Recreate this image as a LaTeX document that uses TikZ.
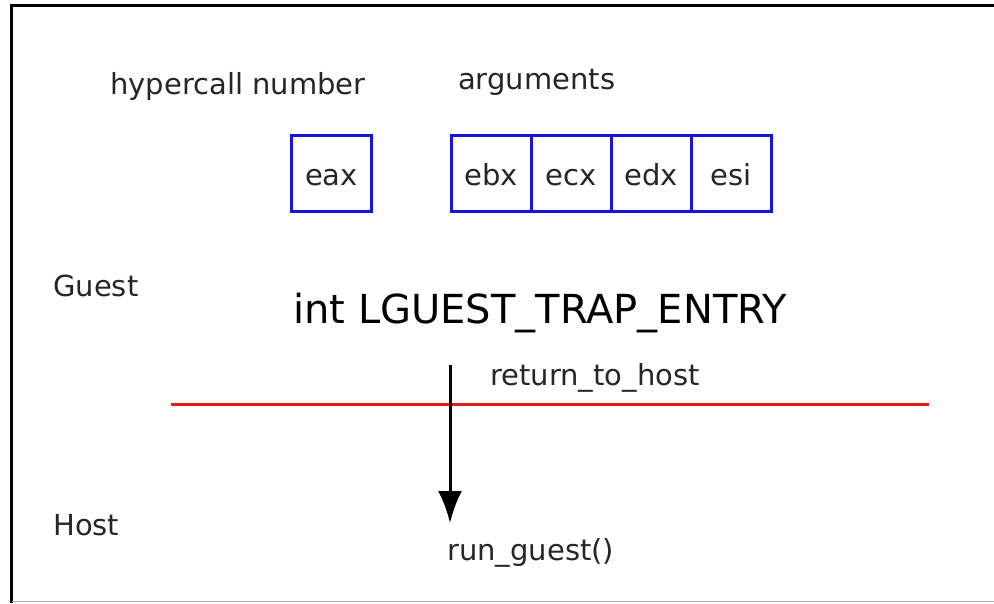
\documentclass[tikz,border=0pt]{standalone}
\usepackage{fontspec}
\setmainfont{DejaVu Sans}
\usetikzlibrary{arrows.meta}
\definecolor{regblue}{RGB}{20,20,220}
\definecolor{sepred}{RGB}{225,30,30}
\begin{document}
\begin{tikzpicture}[x=1pt,y=-1pt,
  lbl/.style={inner sep=0pt, font=\fontsize{29}{32}\selectfont, text=black!85},
  reg/.style={draw=regblue, line width=3pt, minimum width=80pt, minimum height=76pt, inner sep=0pt, text height=24pt, text depth=0pt, font=\fontsize{29}{32}\selectfont, text=black!85},
  big/.style={inner sep=0pt, font=\fontsize{40}{44}\selectfont}]
\useasboundingbox (0,0) rectangle (994,603);
% frame
\draw[line width=3.5pt] (11.5,603) -- (11.5,5.5) -- (994,5.5);
\draw[black!30, line width=1.5pt] (11.5,601.5) -- (994,601.5);
% labels
\node[lbl, anchor=west] (hyp) at (110,86) {hypercall number};
\node[lbl, anchor=west] (args) at (458,82) {arguments};
\node[lbl, anchor=west] (guest) at (53,286) {Guest};
\node[lbl, anchor=west] (host) at (53,525) {Host};
\node[big, anchor=west] (trap) at (293,313) {int LGUEST\_TRAP\_ENTRY};
\node[lbl, anchor=west] (ret) at (490,378) {return\_to\_host};
\node[lbl, anchor=west] (run) at (447,553) {run\_guest()};
% registers
\node[reg] (eax) at (331.5,173) {eax};
\node[reg] (ebx) at (491,173) {ebx};
\node[reg] (ecx) at (571,173) {ecx};
\node[reg] (edx) at (651,173) {edx};
\node[reg] (esi) at (731,173) {esi};
% separator
\coordinate (sl) at (171,404);
\coordinate (sr) at (929,404);
\draw[sepred, line width=3pt] (sl) -- (sr);
% arrow
\coordinate (as) at (450,365);
\coordinate (ae) at (450,523);
\draw[line width=3pt, -{Latex[length=32pt, width=24pt]}] (as) -- (ae);
\end{tikzpicture}
\end{document}
